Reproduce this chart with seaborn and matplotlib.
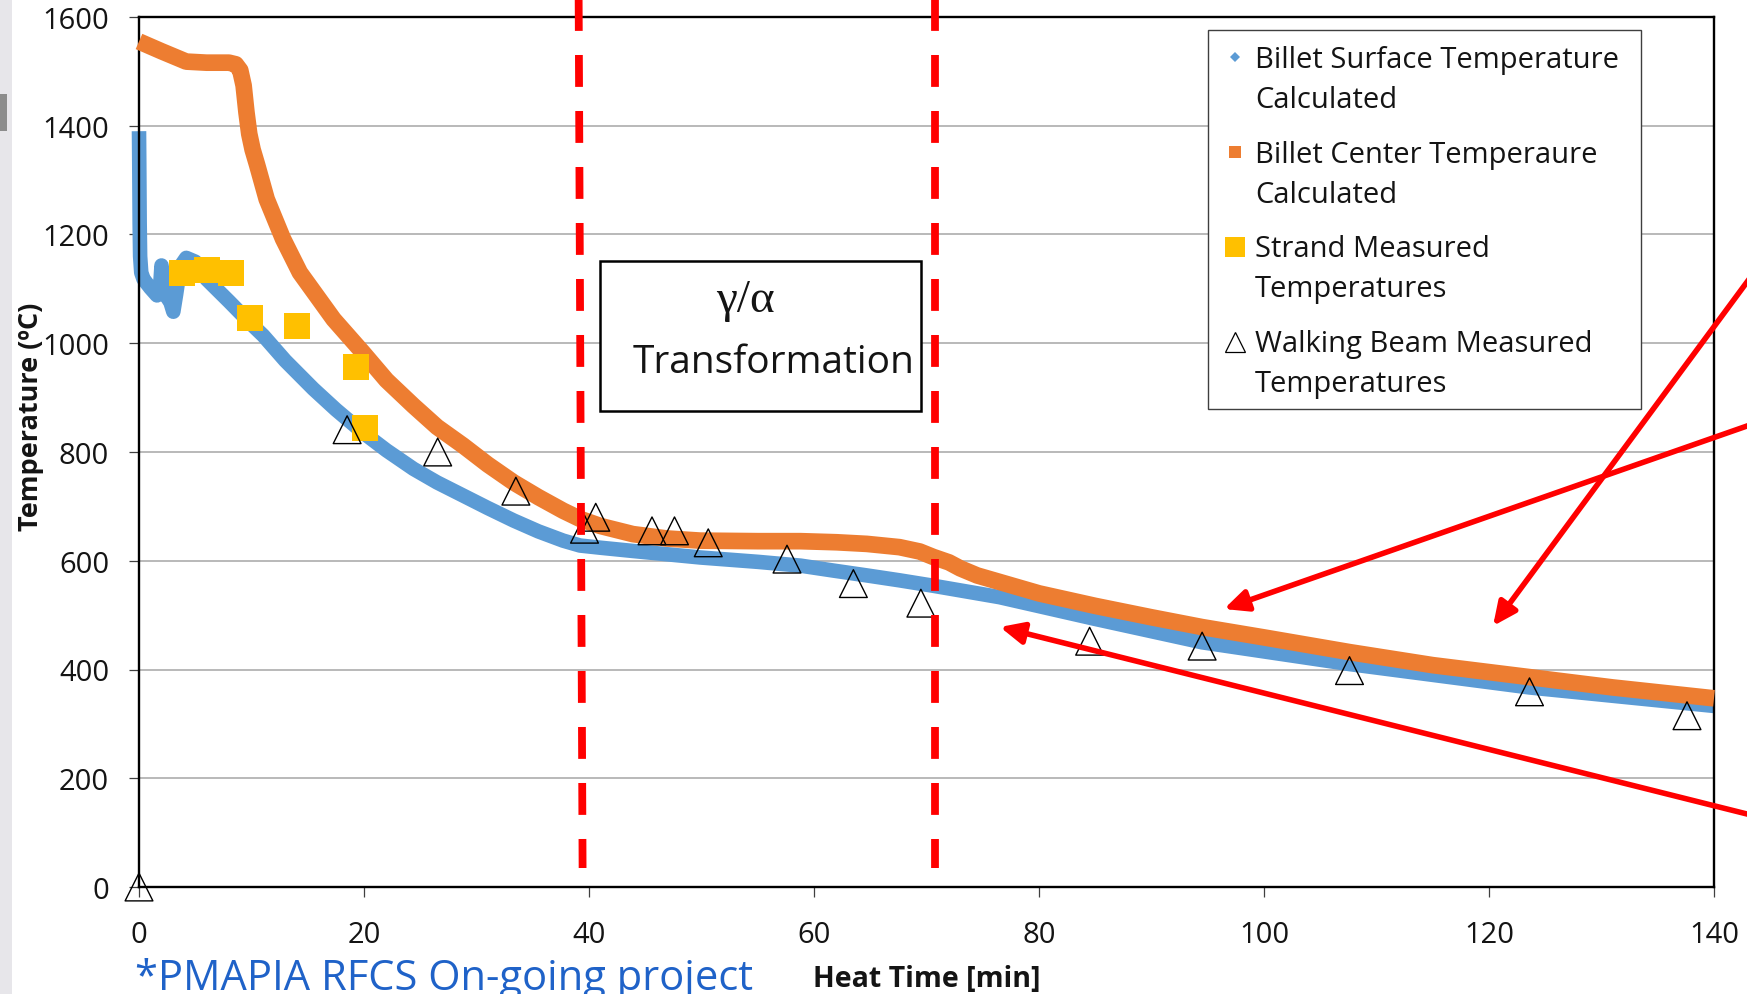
import matplotlib
matplotlib.use("Agg")
import matplotlib.pyplot as plt
import pandas as pd
import seaborn as sns
from matplotlib.patches import Rectangle
from matplotlib.lines import Line2D

# ---- data -------------------------------------------------------------
surface_time = [0.0, 0.02, 0.04, 0.06, 0.1, 0.2, 0.4, 0.7, 1.0, 1.3, 1.6, 1.85,
                2.0, 2.15, 2.4, 2.8, 3.05, 3.3, 3.5, 3.8, 4.2, 5.0, 6.0, 8.0,
                9.9, 11.05, 13.0, 15.5, 17.5, 19.9, 22.0, 24.4, 26.5, 28.8,
                31.0, 33.3, 35.5, 37.7, 39.2, 41.0, 43.9, 46.9, 49.9, 55.0,
                58.8, 61.7, 64.7, 67.6, 70.6, 76.5, 85.0, 94.5, 107.6, 123.6,
                140.0]
surface_temp = [1390, 1340, 1280, 1220, 1160, 1130, 1118, 1110, 1102, 1095,
                1088, 1095, 1143, 1100, 1088, 1075, 1058, 1090, 1118, 1145,
                1157, 1150, 1118, 1077, 1037, 1014, 968, 916, 878, 836, 803,
                769, 744, 720, 697, 674, 654, 637, 628, 624, 618, 612, 606,
                598, 591, 582, 573, 564, 554, 533, 493, 450, 410, 367, 333]

center_time = [0.0, 2.0, 4.2, 6.0, 8.0, 8.6, 9.0, 9.3, 9.55, 9.8, 10.1, 10.5,
               11.35, 12.8, 14.3, 15.8, 17.3, 19.9, 22.0, 24.4, 26.5, 28.8,
               31.0, 33.3, 35.5, 37.7, 39.2, 41.0, 43.9, 46.9, 49.9, 55.0,
               58.8, 62.0, 64.7, 67.6, 69.4, 70.6, 72.0, 73.0, 74.5, 76.5,
               80.0, 85.0, 90.0, 94.5, 100.0, 107.6, 115.0, 123.6, 131.0,
               140.0]
center_temp = [1555, 1537, 1518, 1516, 1516, 1513, 1502, 1474, 1425, 1385,
               1356, 1328, 1265, 1192, 1130, 1087, 1044, 983, 932, 885, 846,
               812, 777, 744, 717, 692, 677, 664, 649, 641, 637, 636, 636, 634,
               631, 625, 617, 607, 597, 586, 573, 561, 540, 517, 496, 478, 459,
               432, 408, 386, 367, 347]

strand_time = [3.8, 6.0, 8.2, 9.9, 14.0, 19.3, 20.1]
strand_temp = [1130, 1135, 1130, 1046, 1031, 956, 844]

beam_time = [0.0, 18.5, 26.55, 33.5, 39.6, 40.6, 45.6, 47.6, 50.6, 57.6, 63.5,
             69.5, 84.5, 94.5, 107.6, 123.6, 137.6]
beam_temp = [0, 841, 800, 728, 658, 680, 655, 655, 633, 603, 558, 522, 452,
             443, 398, 359, 315]

x_ticks = [0, 20, 40, 60, 80, 100, 120, 140]
y_ticks = [0, 200, 400, 600, 800, 1000, 1200, 1400, 1600]

# start / end of the gamma -> alpha transformation (top x, bottom x)
transformation_start = [39.08, 39.43]
transformation_end = [70.76, 70.76]

legend_entries = [
    ("Billet Surface Temperature", "Calculated"),
    ("Billet Center Temperaure", "Calculated"),
    ("Strand Measured", "Temperatures"),
    ("Walking Beam Measured", "Temperatures"),
]

# ---- style ------------------------------------------------------------
BLUE = "#5B9BD5"
ORANGE = "#ED7D31"
YELLOW = "#FFC000"
RED = "#FF0000"
NOTE_BLUE = "#1F62C8"
INK = "#141414"

sns.set_theme(style="white")
plt.rcParams["font.family"] = ["Open Sans", "DejaVu Sans"]

W, H = 1747, 995


def fpx(x, y):
    """Figure fraction from pixel position measured from the top-left."""
    return x / W, 1 - y / H


fig = plt.figure(figsize=(W / 100, H / 100), dpi=100)
fig.patch.set_facecolor("white")
ax = fig.add_axes([139 / W, 1 - 888 / H, (1714 - 139) / W, (888 - 18) / H])

surface = pd.DataFrame({"time": surface_time, "temp": surface_temp})
center = pd.DataFrame({"time": center_time, "temp": center_temp})
strand = pd.DataFrame({"time": strand_time, "temp": strand_temp})
beam = pd.DataFrame({"time": beam_time, "temp": beam_temp})

sns.lineplot(data=surface, x="time", y="temp", ax=ax, color=BLUE,
             linewidth=10.5, sort=False, estimator=None, zorder=2,
             clip_on=False, solid_capstyle="butt")
sns.lineplot(data=center, x="time", y="temp", ax=ax, color=ORANGE,
             linewidth=12, sort=False, estimator=None, zorder=3,
             clip_on=False, solid_capstyle="butt")
sns.scatterplot(data=strand, x="time", y="temp", ax=ax, marker="s", s=369,
                color=YELLOW, linewidth=0, zorder=4, clip_on=False)
sns.scatterplot(data=beam, x="time", y="temp", ax=ax, marker="^", s=400,
                color="black", linewidth=1.0, zorder=5, clip_on=False)
tri = ax.collections[-1]
tri.set_facecolor("none")
tri.set_edgecolor("black")

# dashed markers of the transformation range
for xs in (transformation_start, transformation_end):
    ax.plot(xs, [888 / 870, (888 - 869) / 870], transform=ax.get_xaxis_transform(),
            color=RED, lw=5.6, linestyle=(0, (4.1, 3.1)), clip_on=False,
            zorder=6, solid_capstyle="butt", dash_capstyle="butt")

# axes
ax.set_xlim(0, 140)
ax.set_ylim(0, 1600)
ax.set_xticks(x_ticks)
ax.set_yticks(y_ticks)
ax.yaxis.grid(True, color="#ADADAD", lw=1.2)
ax.xaxis.grid(False)
ax.set_axisbelow(True)
for sp in ax.spines.values():
    sp.set_visible(True)
    sp.set_color("black")
    sp.set_linewidth(1.7)
ax.tick_params(axis="both", which="major", bottom=True, left=True,
               direction="out", length=7.5, width=0.9, color="#404040",
               labelsize=21, labelcolor=INK)
ax.tick_params(axis="x", pad=16)
ax.tick_params(axis="y", pad=14)

ax.set_xlabel("Heat Time [min]", fontsize=20.5, fontweight="bold", color=INK)
ax.xaxis.set_label_coords((927 - 139) / 1575, (888 - 986.7) / 870)
ax.xaxis.label.set_va("baseline")
ax.set_ylabel("Temperature (ºC)", fontsize=19.5, fontweight="bold", color=INK)
ax.yaxis.set_label_coords((31 - 139) / 1575, (888 - 416.7) / 870)
ax.yaxis.label.set_va("center")

# transformation label box
ax.add_patch(Rectangle(((600 - 139) / 1575, (888 - 411.7) / 870),
                       (921 - 600) / 1575, (411.7 - 261.7) / 870,
                       transform=ax.transAxes, facecolor="white",
                       edgecolor="black", lw=1.8, zorder=7))
ax.text((745 - 139) / 1575, (888 - 312) / 870, "γ/α", transform=ax.transAxes,
        ha="center", va="baseline", fontsize=34,
        family=["Liberation Serif", "DejaVu Serif"], color=INK, zorder=8)
ax.text((633 - 139) / 1575, (888 - 373) / 870, "Transformation",
        transform=ax.transAxes, ha="left", va="baseline", fontsize=28,
        color=INK, zorder=8)

# legend panel
fig.add_artist(Rectangle(fpx(1208, 410), 433 / W, 379 / H,
                         transform=fig.transFigure, facecolor="white",
                         edgecolor="#3F3F3F", lw=1.0, zorder=5))
handles = [
    dict(marker="D", ms=5.6, mfc=BLUE, mec=BLUE, mew=0),
    dict(marker="s", ms=9.1, mfc=ORANGE, mec=ORANGE, mew=0),
    dict(marker="s", ms=14, mfc=YELLOW, mec=YELLOW, mew=0),
    dict(marker="^", ms=14, mfc="none", mec="black", mew=0.9),
]
marker_rows = [58, 153, 248, 343]
first_lines = [68, 163, 257, 352]
for (l1, l2), style, my, by in zip(legend_entries, handles, marker_rows, first_lines):
    mx, myf = fpx(1235, my)
    fig.add_artist(Line2D([mx], [myf], transform=fig.transFigure, ls="none",
                          zorder=6, **style))
    for text, base in ((l1, by), (l2, by + 40)):
        tx, ty = fpx(1255, base)
        fig.text(tx, ty, text, fontsize=21, va="baseline", ha="left",
                 color=INK, zorder=6)

# red pointer arrows (tail beyond the right edge, head inside the plot)
arrows = [((1747, 427), (1224, 610)),
          ((1747, 283), (1493, 627)),
          ((1747, 815), (1000, 628))]
for tail, head in arrows:
    dx, dy = tail[0] - head[0], tail[1] - head[1]
    ext = 20 / dx
    tx, ty = tail[0] + dx * ext, tail[1] + dy * ext
    ax.annotate("", xy=(head[0], H - head[1]), xycoords="figure pixels",
                xytext=(tx, H - ty), textcoords="figure pixels",
                arrowprops=dict(arrowstyle="-|>,head_length=14,head_width=6.5",
                                color=RED, lw=4, shrinkA=0, shrinkB=0,
                                mutation_scale=1),
                annotation_clip=False, zorder=9)

# project note
nx, ny = fpx(135, 990)
fig.text(nx, ny, "*PMAPIA RFCS On-going project", fontsize=30, color=NOTE_BLUE,
         va="baseline", ha="left")

# window edge strip on the left
fig.add_artist(Rectangle((0, 0), 12 / W, 1, transform=fig.transFigure,
                         facecolor="#E7E6EA", edgecolor="none", zorder=1))
fig.add_artist(Rectangle(fpx(0, 132), 7 / W, 37 / H, transform=fig.transFigure,
                         facecolor="#8C8C8C", edgecolor="none", zorder=2))

fig.savefig("out.png", dpi=100, facecolor="white")
